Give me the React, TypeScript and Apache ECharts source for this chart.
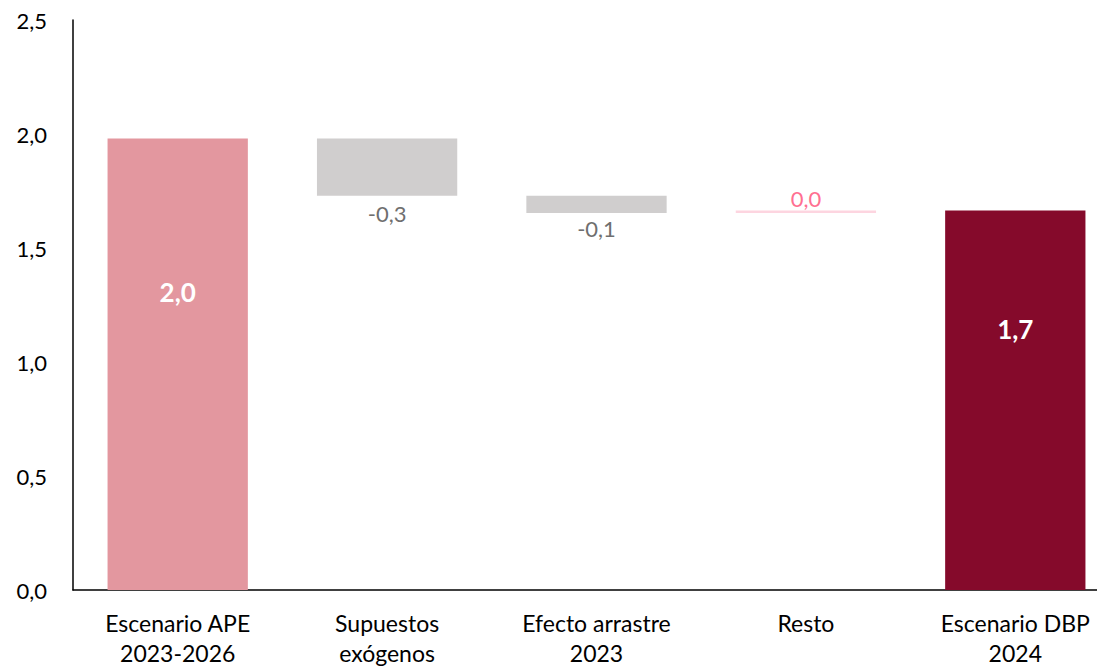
import React, { useEffect, useRef } from "react";
import * as echarts from "echarts";

const categories = [
  "Escenario APE\n2023-2026",
  "Supuestos\nexógenos",
  "Efecto arrastre\n2023",
  "Resto",
  "Escenario DBP\n2024",
];
// bar start/end values (waterfall)
const barStart = [0, 1.98, 1.729, 1.653, 0];
const barEnd = [1.98, 1.729, 1.653, 1.665, 1.665];
const barLabels = ["2,0", "-0,3", "-0,1", "0,0", "1,7"];
const yTicks = [0, 0.5, 1, 1.5, 2, 2.5];

const FONT = "Lato, 'Open Sans', sans-serif";

export default function App() {
  const ref = useRef<HTMLDivElement>(null);
  useEffect(() => {
    if (!ref.current) return;
    const chart = echarts.init(ref.current, undefined, { renderer: "svg" });
    const base = barStart.map((s, i) => Math.min(s, barEnd[i]));
    const height = barStart.map((s, i) => Math.abs(barEnd[i] - s));
    const colors = ["#E3979F", "#D0CECE", "#D0CECE", "#FDD5E0", "#850A2B"];
    const labelCfg: any[] = [
      { show: true, position: "insideTop", distance: 140, color: "#fff", fontWeight: "bold", fontSize: 26 },
      { show: true, position: "bottom", distance: 7, color: "#6F6F6F", fontSize: 22 },
      { show: true, position: "bottom", distance: 4, color: "#6F6F6F", fontSize: 22 },
      { show: true, position: "top", distance: 1, color: "#FF6F91", fontSize: 22 },
      { show: true, position: "insideTop", distance: 106, color: "#fff", fontWeight: "bold", fontSize: 26 },
    ];
    chart.setOption({
      animation: false,
      textStyle: { fontFamily: FONT },
      grid: { left: 73, top: 20, width: 1047, height: 572, containLabel: false },
      xAxis: {
        type: "category",
        data: categories,
        axisLine: { lineStyle: { color: "#000", width: 1.5 } },
        axisTick: { show: false },
        axisLabel: { color: "#000", fontSize: 23, lineHeight: 30, margin: 18, fontFamily: FONT, interval: 0 },
      },
      yAxis: {
        type: "value",
        min: 0,
        max: 2.5,
        interval: 0.5,
        axisLine: { show: true, lineStyle: { color: "#000", width: 1.5 } },
        axisTick: { show: false },
        splitLine: { show: false },
        axisLabel: {
          color: "#000",
          fontSize: 22,
          margin: 26,
          fontFamily: FONT,
          formatter: (v: number) => (yTicks.includes(v) ? v.toFixed(1).replace(".", ",") : ""),
        },
      },
      series: [
        {
          type: "bar",
          stack: "w",
          data: base,
          itemStyle: { color: "transparent" },
          barCategoryGap: "33%",
          silent: true,
        },
        {
          type: "bar",
          stack: "w",
          barCategoryGap: "33%",
          data: height.map((h, i) => ({
            value: h,
            itemStyle: { color: colors[i] },
            label: { ...labelCfg[i], fontFamily: FONT, formatter: () => barLabels[i] },
          })),
        },
      ],
    });
    return () => chart.dispose();
  }, []);
  return (
    <div
      ref={ref}
      style={{ position: "fixed", left: 0, top: 0, width: 1130, height: 668, background: "#fff" }}
    />
  );
}
